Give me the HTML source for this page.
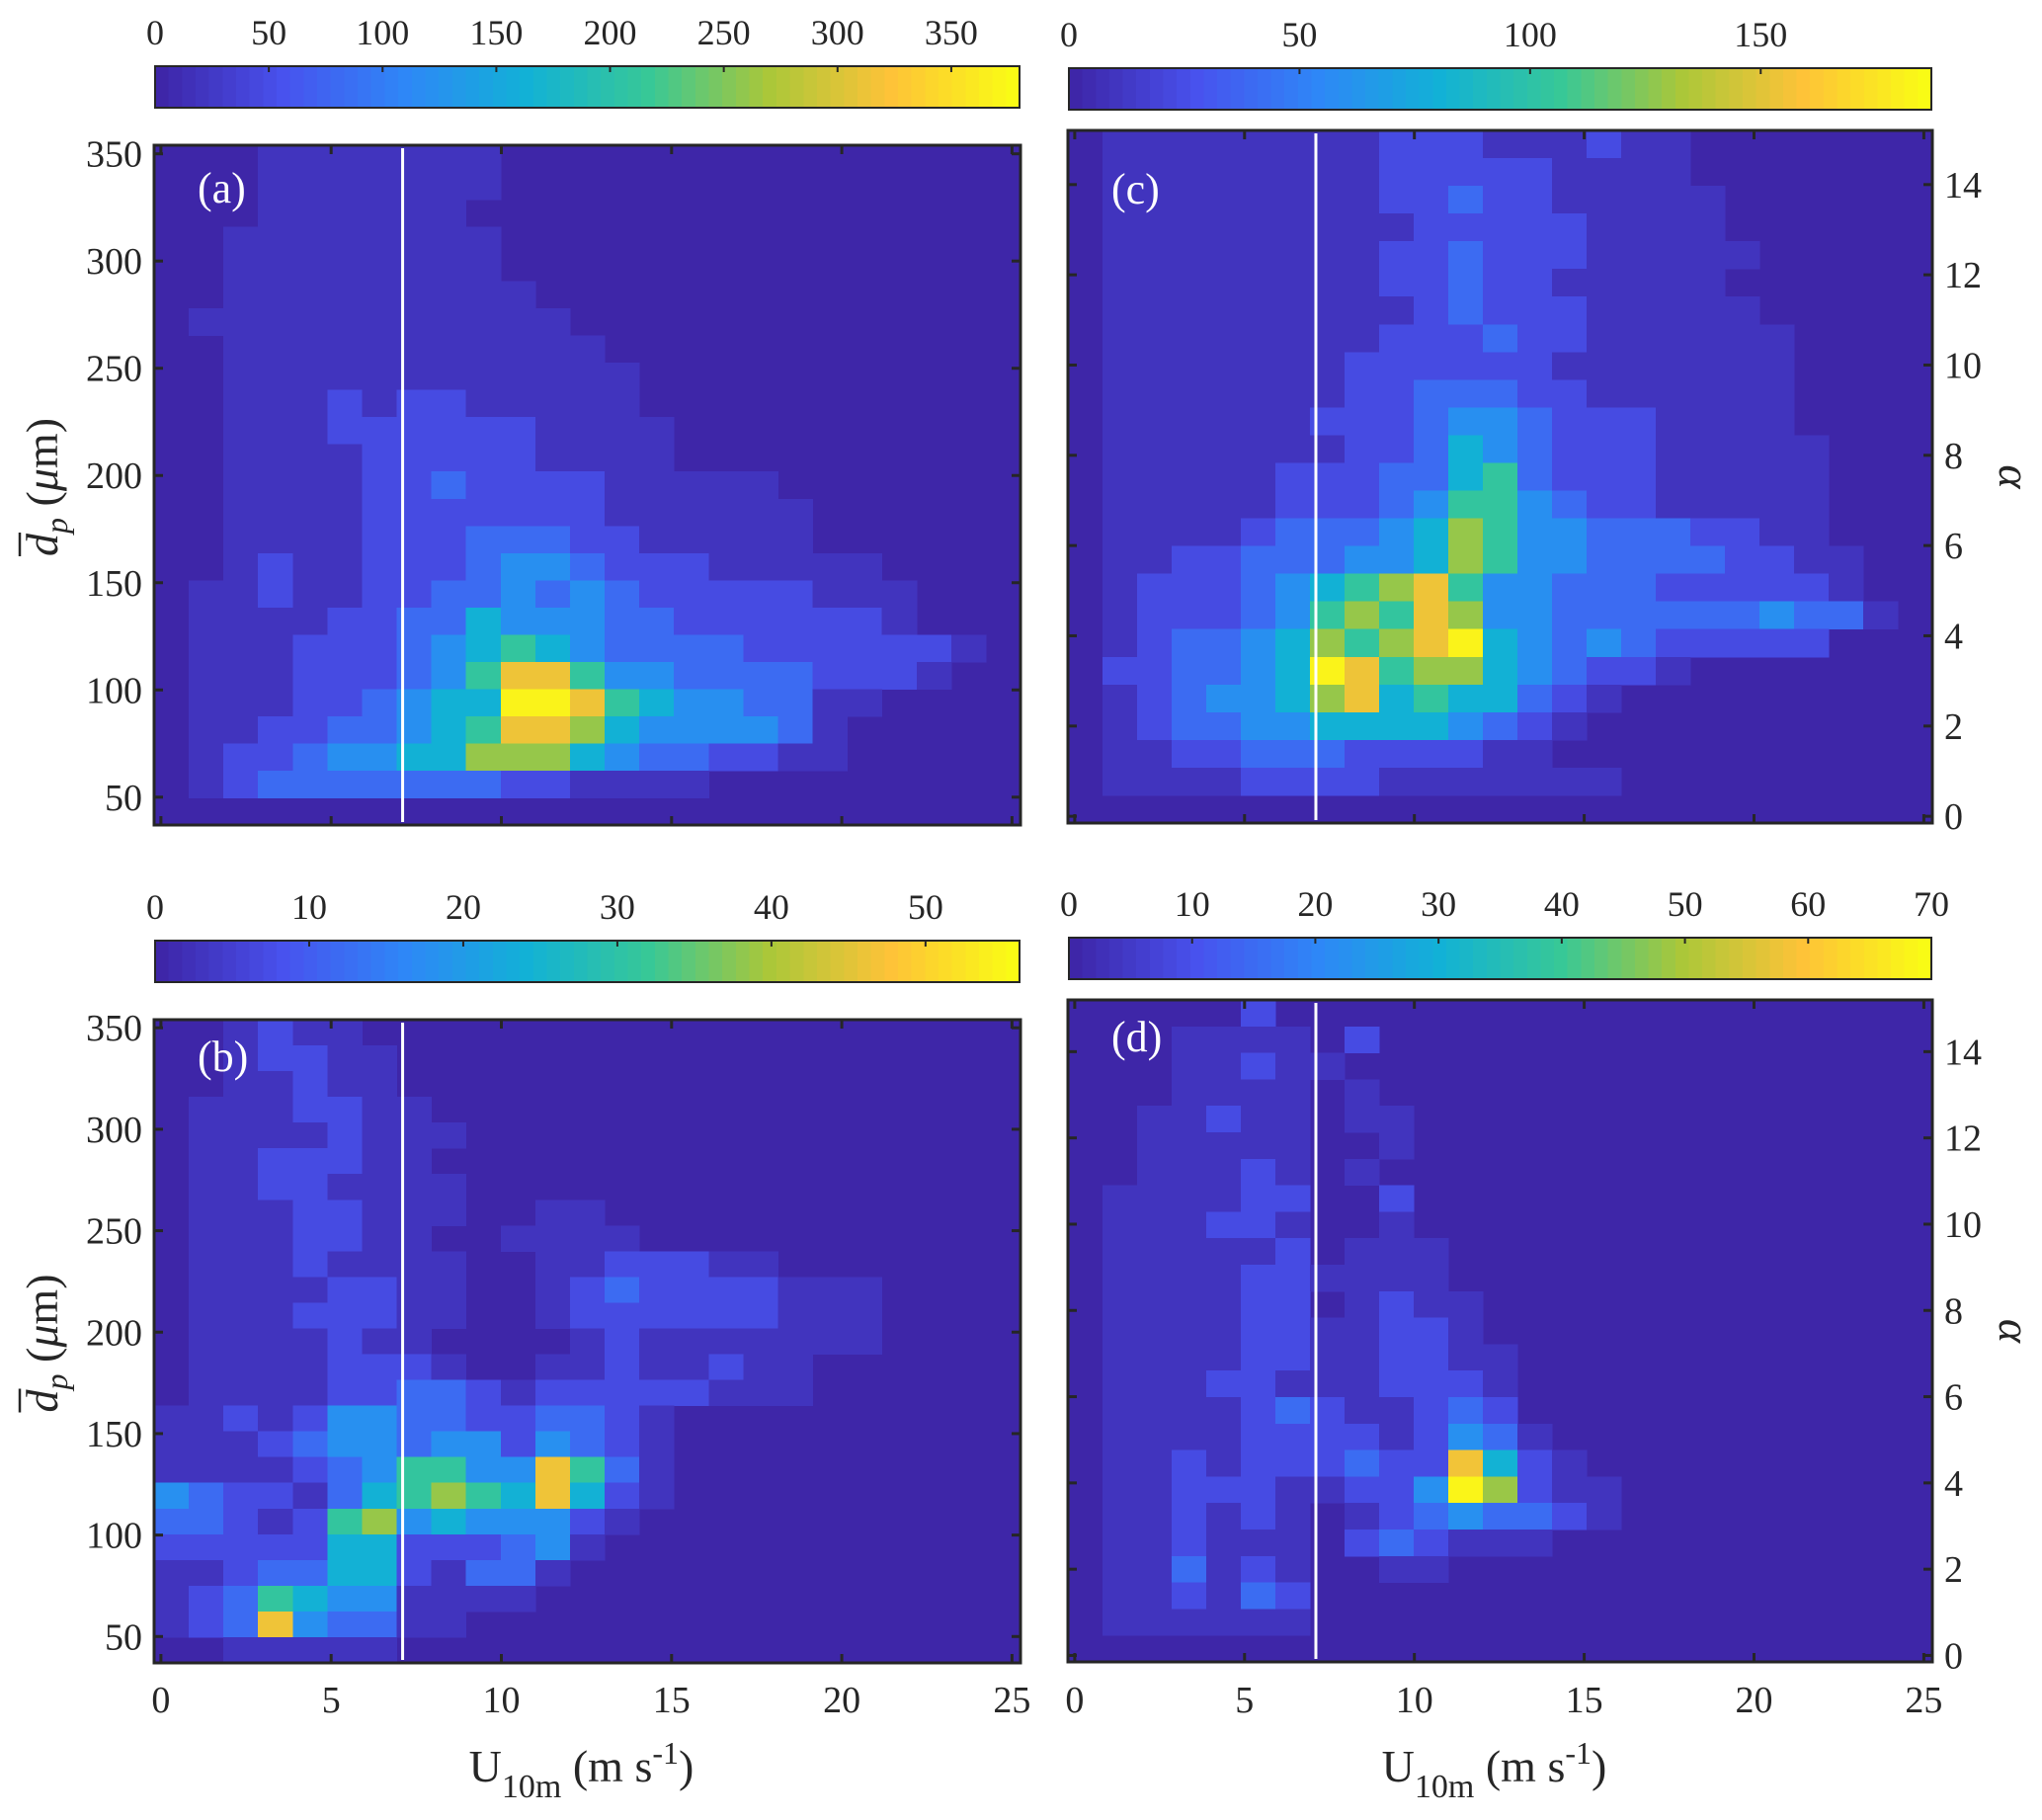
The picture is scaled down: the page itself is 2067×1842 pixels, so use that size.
<!DOCTYPE html>
<html><head><meta charset="utf-8">
<style>
html,body{margin:0;padding:0;background:#fff;}
svg{display:block;font-family:"Liberation Serif","DejaVu Serif",serif;}
</style></head>
<body>
<svg id="fig" width="2067" height="1842" viewBox="0 0 2067 1842" xmlns="http://www.w3.org/2000/svg"></svg>
<script>
// ---------- data (intensity levels 0-9 per bin; row 0 = top) ----------
const countsA = [
"0001111111000000000000000","0001111111000000000000000","0001111110000000000000000",
"0011111111000000000000000","0011111111000000000000000","0011111111100000000000000",
"0111111111110000000000000","0011111111111000000000000","0011111111111100000000000",
"0011121221111100000000000","0011122222211110000000000","0011112222211110000000000",
"0011112232222111110000000","0011112222222111111000000","0011112223332211111000000",
"0012112223443222111110000","0112112233434322222111000","0111122335444332222221000",
"0111222345654333322222210","0111222346886443333222100","0111223455998654433110000",
"0112233456887544443100000","0122344557775433221100000","0123333333221111000000000",
"0000000000000000000000000"];
const countsC = [
"0111111112221112110000000","0111111112222211110000000","0111111112232211111000000",
"0111111111222221111000000","0111111112232221111100000","0111111112232211111000000",
"0111111111232221111100000","0111111112223221111110000","0111111122222211111110000",
"0111111122333221111110000","0111111222344322211110000","0111111122354322211111000",
"0111112223356322211111000","0111112223466432211111000","0111123334576443332211000",
"0112233344576443333221100","0122234567864433322222100","0122234676874433333343310",
"0123345767895434322222000","0223345986775432210000000","0123445785655321000000000",
"0123344555543210000000000","0112233322221100000000000","0111122221111111000000000",
"0000000000000000000000000"];
const countsB = [
"0012110000000000000000000","0012211000000000000000000","0011211000000000000000000",
"0111221100000000000000000","0111121110000000000000000","0112221100000000000000000",
"0112211110000000000000000","0111221110011000000000000","0111221100111100000000000",
"0111211110011222110000000","0111122110012322221110000","0111222110012222221110000",
"0111121100001211111110000","0111122210011211211000000","0111122332122222111000000",
"1121244332233210000000000","1112344344243210000000000","1111234664486310000000000",
"4322135676585210000000000","3321267454442100000000000","2222255222341000000000000",
"1123355213310000000000000","1236544111100000000000000","1238433110000000000000000",
"0011111000000000000000000"];
const countsD = [
"0000020000000000000000000","0001111020000000000000000","0001121100000000000000000",
"0001111010000000000000000","0011211011000000000000000","0011111001000000000000000",
"0011121010000000000000000","0111122002000000000000000","0111221001000000000000000",
"0111112011100000000000000","0111122111100000000000000","0111122012110000000000000",
"0111122112210000000000000","0111122112211000000000000","0111221112221000000000000",
"0111123211232000000000000","0111122221243100000000000","0112122232285210000000000",
"0112221122497211000000000","0112121012343321000000000","0112111023211100000000000",
"0113121001100000000000000","0112132000000000000000000","0111111000000000000000000",
"0000000000000000000000000"];
const peaks = [372, 183, 55, 69];          // counts represented by level 9
const cbMax = [380, 187, 56.1, 70];        // colour-axis upper limit
const cbTicksA = [0,50,100,150,200,250,300,350];
const cbTicksC = [0,50,100,150];
const cbTicksB = [0,10,20,30,40,50];
const cbTicksD = [0,10,20,30,40,50,60,70];
const xTicks = [0,5,10,15,20,25];
const dTicks = [50,100,150,200,250,300,350];
const alphaTicks = [0,2,4,6,8,10,12,14];
const thresholdU = 7.1;

// ---------- helpers ----------
const NS = "http://www.w3.org/2000/svg";
const svg = document.getElementById('fig');
function mk(tag, attrs, parent) {
  const e = document.createElementNS(NS, tag);
  for (const k in attrs) e.setAttribute(k, attrs[k]);
  (parent || svg).appendChild(e);
  return e;
}
const parulaStops = [[62,38,168],[72,82,238],[46,135,247],[18,177,214],[55,200,151],[171,199,57],[254,195,56],[249,251,21]];
function parula(t) {
  t = Math.max(0, Math.min(1, t));
  const s = t * (parulaStops.length - 1);
  const i = Math.min(parulaStops.length - 2, Math.floor(s));
  const f = s - i, a = parulaStops[i], b = parulaStops[i + 1];
  return `rgb(${Math.round(a[0]+(b[0]-a[0])*f)},${Math.round(a[1]+(b[1]-a[1])*f)},${Math.round(a[2]+(b[2]-a[2])*f)})`;
}
const defs = mk('defs', {});
const grad = mk('linearGradient', {id: 'parulaGrad', x1: 0, x2: 1, y1: 0, y2: 0}, defs);
for (let i = 0; i < 64; i++) {
  mk('stop', {offset: (i/64), 'stop-color': parula(i/63)}, grad);
  mk('stop', {offset: ((i+1)/64), 'stop-color': parula(i/63)}, grad);
}

const panels = [
  {key:'a', counts:countsA, peak:peaks[0], cmax:cbMax[0], cbt:cbTicksA, fx:156, fy:147, fw:877, fh:688, cby:67, yl:[37,354], yt:dTicks, side:'left', xlab:false},
  {key:'c', counts:countsC, peak:peaks[1], cmax:cbMax[1], cbt:cbTicksC, fx:1081, fy:132, fw:875, fh:701, cby:69, yl:[-0.15,15.2], yt:alphaTicks, side:'right', xlab:false},
  {key:'b', counts:countsB, peak:peaks[2], cmax:cbMax[2], cbt:cbTicksB, fx:156, fy:1032, fw:877, fh:651, cby:952, yl:[37,354], yt:dTicks, side:'left', xlab:true},
  {key:'d', counts:countsD, peak:peaks[3], cmax:cbMax[3], cbt:cbTicksD, fx:1081, fy:1012, fw:875, fh:670, cby:949, yl:[-0.15,15.2], yt:alphaTicks, side:'right', xlab:true}
];
const xl = [-0.2, 25.25];

panels.forEach(p => {
  const g = mk('g', {});
  
  
  const xs = v => p.fx + (v - xl[0]) / (xl[1] - xl[0]) * p.fw;
  const ys = v => p.fy + p.fh - (v - p.yl[0]) / (p.yl[1] - p.yl[0]) * p.fh;

  const bg = mk('rect', {x:p.fx, y:p.fy, width:p.fw, height:p.fh, fill:parula(0)}, g);
  
  

  const nr = p.counts.length, nc = p.counts[0].length;
  const bw = (xl[1]-xl[0]) / nc, bh = (p.yl[1]-p.yl[0]) / nr;
  const hm = mk('g', {'shape-rendering':'crispEdges'}, g);
  
  
  for (let r = 0; r < nr; r++) {
    for (let c = 0; c < nc; c++) {
      const lvl = +p.counts[r][c];
      if (!lvl) continue;
      const val = Math.pow(lvl / 9, 1.4) * p.peak;
      const x0 = xs(xl[0] + c*bw), x1 = xs(xl[0] + (c+1)*bw);
      const y0 = ys(p.yl[1] - r*bh), y1 = ys(p.yl[1] - (r+1)*bh);
      const cell = mk('rect', {x:x0, y:y0, width:x1-x0+0.5, height:y1-y0+0.5, fill:parula(val/p.cmax)}, hm);
      
      
    }
  }

  const tl = mk('line', {x1:xs(thresholdU), x2:xs(thresholdU), y1:p.fy+3, y2:p.fy+p.fh-3, stroke:'#fff', 'stroke-width':3}, g);
  
  

  const pl = mk('text', {x:p.fx+44, y:p.fy+(p.key==='c'?74:(p.key==='a'?58:52)), fill:'#fff', 'font-size':44}, g);
  pl.textContent = '(' + p.key + ')';
  
  

  const fr = mk('rect', {x:p.fx, y:p.fy, width:p.fw, height:p.fh, fill:'none', stroke:'#262626', 'stroke-width':3}, g);
  
  

  xTicks.forEach(t => {
    const x = xs(t);
    mk('line', {x1:x, x2:x, y1:p.fy+p.fh, y2:p.fy+p.fh-9, stroke:'#262626', 'stroke-width':3}, g);
    mk('line', {x1:x, x2:x, y1:p.fy, y2:p.fy+9, stroke:'#262626', 'stroke-width':3}, g);
    if (p.xlab) {
      const tx = mk('text', {x:x, y:1733, 'text-anchor':'middle', 'font-size':38, fill:'#262626'}, g);
      tx.textContent = t;
      
      
    }
  });
  p.yt.forEach(t => {
    const y = ys(t);
    mk('line', {x1:p.fx, x2:p.fx+9, y1:y, y2:y, stroke:'#262626', 'stroke-width':3}, g);
    mk('line', {x1:p.fx+p.fw, x2:p.fx+p.fw-9, y1:y, y2:y, stroke:'#262626', 'stroke-width':3}, g);
    const left = p.side === 'left';
    const ty = mk('text', {x: left ? p.fx-12 : p.fx+p.fw+12, y:y+13, 'text-anchor': left?'end':'start', 'font-size':38, fill:'#262626'}, g);
    ty.textContent = t;
    
    
  });

  const cbw = p.fw - 2, cbh = 42, cbx = p.fx + 1;
  const cb = mk('rect', {x:cbx, y:p.cby, width:cbw, height:cbh, fill:'url(#parulaGrad)', stroke:'#262626', 'stroke-width':2}, g);
  
  
  p.cbt.forEach(t => {
    const x = cbx + t / p.cmax * cbw;
    mk('line', {x1:x, x2:x, y1:p.cby, y2:p.cby+6, stroke:'#262626', 'stroke-width':2}, g);
    const ct = mk('text', {x:x, y:p.cby-22, 'text-anchor':'middle', 'font-size':36, fill:'#262626'}, g);
    ct.textContent = t;
    
    
  });

  if (p.side === 'left') {
    const cy = p.fy + p.fh/2;
    const tg = mk('g', {transform:`translate(58,${cy}) rotate(-90)`}, g);
    
    
    const yt = mk('text', {x:-72, y:0, 'font-size':46, fill:'#262626'}, tg);
    yt.innerHTML = '<tspan font-style="italic">d</tspan><tspan font-style="italic" dy="10" font-size="32">p</tspan><tspan dy="-10"> (</tspan><tspan font-style="italic">μ</tspan><tspan>m)</tspan>';
    const ol = mk('line', {x1:-72, x2:-48, y1:-38, y2:-38, stroke:'#262626', 'stroke-width':2.5}, tg);
    
    
  } else {
    const cy = p.fy + p.fh/2;
    const at = mk('text', {x:0, y:0, transform:`translate(2024,${cy}) rotate(90)`, 'text-anchor':'middle', 'font-size':46, 'font-style':'italic', fill:'#262626'}, g);
    at.textContent = 'α';
    
    
  }
  if (p.xlab) {
    const xt = mk('text', {x:p.fx + p.fw/2 - 6, y:1803, 'text-anchor':'middle', 'font-size':46, fill:'#262626'}, g);
    xt.innerHTML = 'U<tspan dy="16" font-size="34">10m</tspan><tspan dy="-16"> (m s</tspan><tspan dy="-18" font-size="32">-1</tspan><tspan dy="18">)</tspan>';
    
    
  }
});
</script>
</body></html>
